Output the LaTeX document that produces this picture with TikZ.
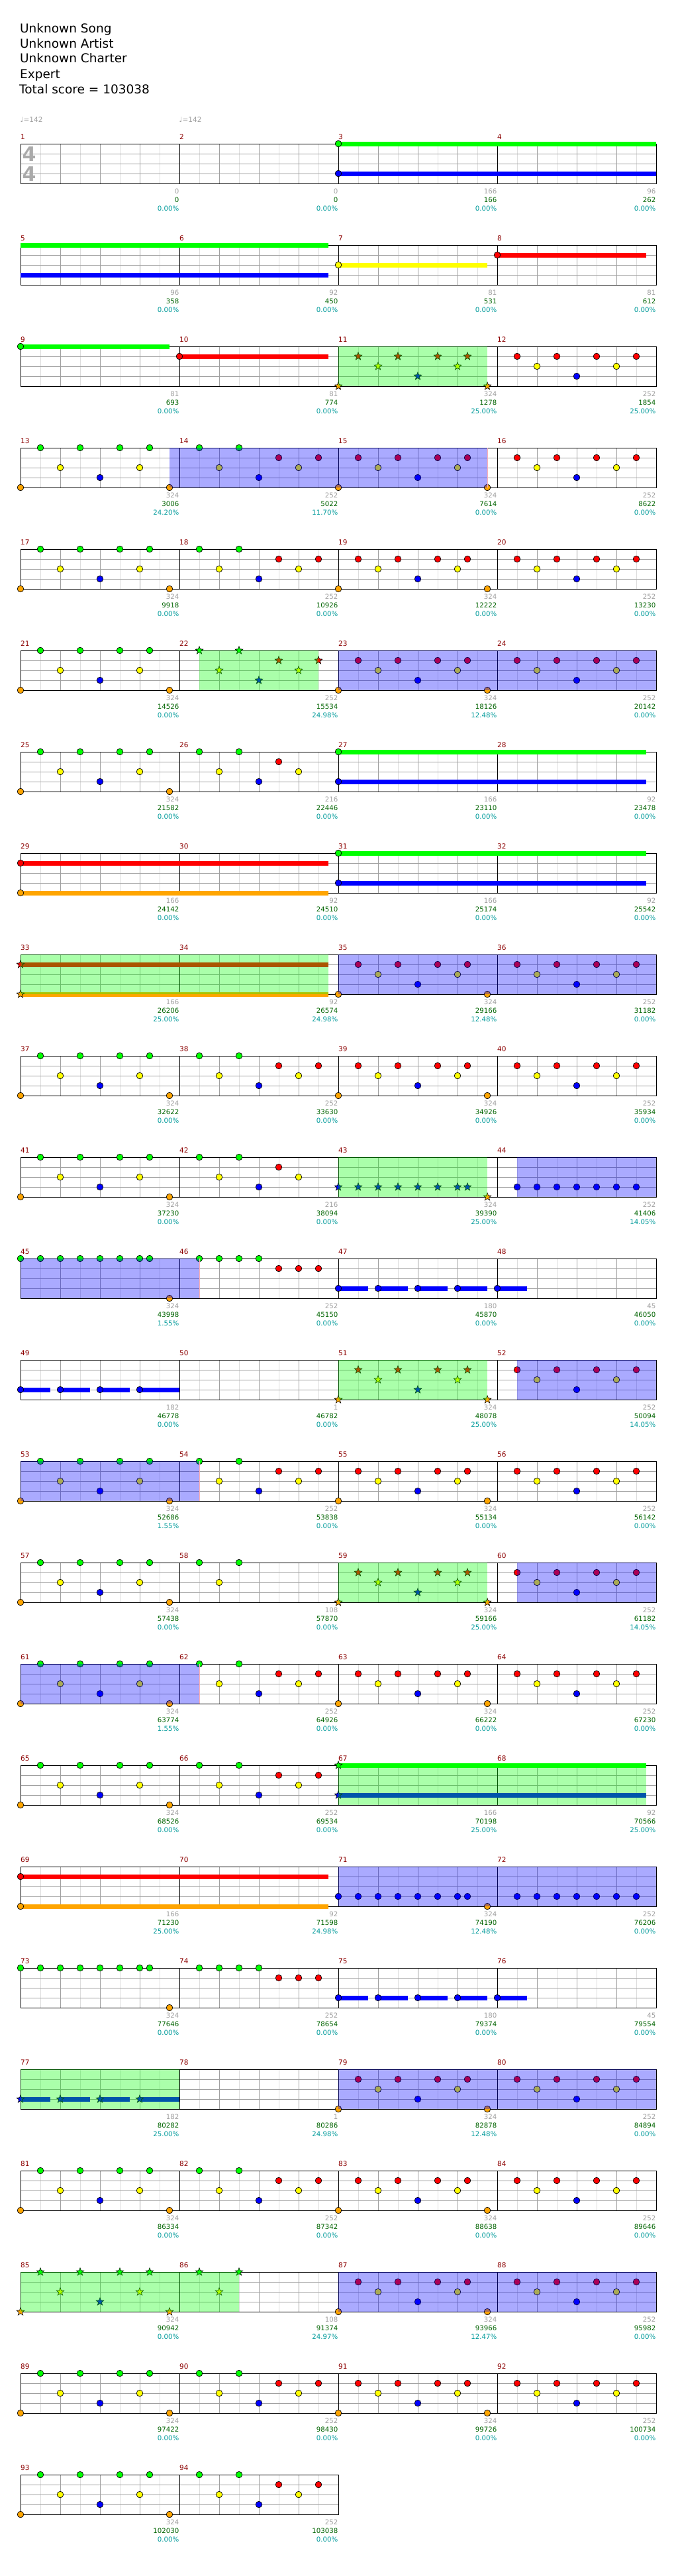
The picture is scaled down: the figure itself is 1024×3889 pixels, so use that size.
\documentclass[tikz,border=0pt]{standalone}
\usepackage{fontspec}
\setmainfont{DejaVu Sans}
\usetikzlibrary{positioning}

\definecolor{lane1}{RGB}{0,255,0}
\definecolor{lane2}{RGB}{255,0,0}
\definecolor{lane3}{RGB}{255,255,0}
\definecolor{lane4}{RGB}{0,0,255}
\definecolor{lane5}{RGB}{255,165,0}
\definecolor{gridlight}{RGB}{221,221,221}
\definecolor{gridmid}{RGB}{160,160,160}
\definecolor{labgray}{RGB}{160,160,160}
\definecolor{labgreen}{RGB}{0,100,0}
\definecolor{labteal}{RGB}{0,155,155}
\definecolor{numred}{RGB}{140,0,0}
\definecolor{tsgray}{RGB}{170,170,170}
\definecolor{spgreen}{RGB}{0,255,0}
\definecolor{spblue}{RGB}{0,0,255}

% measure m, sub-beat s, lane l -> \px, \py
\newcommand\chartpos[3]{%
  \pgfmathsetmacro\px{31+240*mod(#1-1,4)+30*#2}%
  \pgfmathsetmacro\py{217+153*int((#1-1)/4)+15*(#3-1)}}
\newcommand\gem[3]{\chartpos{#1}{#2}{#3}%
  \filldraw[fill=lane#3,draw=black,line width=0.7pt] (\px,\py) circle (4.8pt);}
\newcommand\sgem[3]{\chartpos{#1}{#2}{#3}%
  \filldraw[fill=lane#3,draw=black,line width=0.6pt]
    plot[samples at={0,...,9}] ({\px+ifthenelse(mod(\x,2)==0,6.2,2.6)*cos(90+36*\x)},{\py-ifthenelse(mod(\x,2)==0,6.2,2.6)*sin(90+36*\x)}) -- cycle;}
\newcommand\sus[4]{\chartpos{#1}{#2}{#3}%
  \draw[line width=7pt,lane#3] (\px,\py) -- ++(#4,0);}
\newcommand\phrase[4]{\chartpos{#2}{#3}{1}%
  \fill[#1,opacity=0.333] (\px,\py) rectangle ++(#4,60);}

% note patterns: #1 measure, #2 \gem or \sgem
\newcommand\patA[2]{#2{#1}{0}{5}#2{#1}{1}{1}#2{#1}{2}{3}#2{#1}{3}{1}#2{#1}{4}{4}%
  #2{#1}{5}{1}#2{#1}{6}{3}#2{#1}{6.5}{1}#2{#1}{7.5}{5}}
\newcommand\patB[2]{#2{#1}{1}{1}#2{#1}{2}{3}#2{#1}{3}{1}#2{#1}{4}{4}%
  #2{#1}{5}{2}#2{#1}{6}{3}#2{#1}{7}{2}}
\newcommand\patBb[2]{#2{#1}{1}{1}#2{#1}{2}{3}#2{#1}{3}{1}#2{#1}{4}{4}%
  #2{#1}{5}{2}#2{#1}{6}{3}}
\newcommand\patBc[2]{#2{#1}{1}{1}#2{#1}{2}{3}#2{#1}{3}{1}}
\newcommand\patC[2]{#2{#1}{0}{5}#2{#1}{1}{2}#2{#1}{2}{3}#2{#1}{3}{2}#2{#1}{4}{4}%
  #2{#1}{5}{2}#2{#1}{6}{3}#2{#1}{6.5}{2}#2{#1}{7.5}{5}}
\newcommand\patD[2]{#2{#1}{1}{2}#2{#1}{2}{3}#2{#1}{3}{2}#2{#1}{4}{4}%
  #2{#1}{5}{2}#2{#1}{6}{3}#2{#1}{7}{2}}
\newcommand\runG[2]{\foreach \s in {0,...,6,6.5}{#2{#1}{\s}{1}}#2{#1}{7.5}{5}}
\newcommand\runGR[2]{\foreach \s in {1,...,4}{#2{#1}{\s}{1}}\foreach \s in {5,6,7}{#2{#1}{\s}{2}}}
\newcommand\runB[2]{\foreach \s in {0,...,6,6.5}{#2{#1}{\s}{4}}#2{#1}{7.5}{5}}
\newcommand\runBb[2]{\foreach \s in {1,...,7}{#2{#1}{\s}{4}}}

\begin{document}
\begin{tikzpicture}[x=1pt,y=-1pt]
\tikzset{
  minorline/.style={line width=1pt,draw=gridlight},
  majorline/.style={line width=1pt,draw=gridmid},
  barline/.style={line width=1pt,draw=black},
  heading/.style={anchor=base west,inner sep=0pt,font=\fontsize{18.5}{22}\selectfont},
  tempo/.style={anchor=base west,inner sep=0pt,text=labgray,font=\fontsize{10.5}{12}\selectfont},
  barnum/.style={anchor=base west,inner sep=0pt,text=numred,font=\fontsize{10.5}{12}\selectfont},
  msc/.style={anchor=base east,inner sep=0pt,text=labgray,font=\fontsize{10.2}{12}\selectfont},
  tsc/.style={msc,text=labgreen},
  pct/.style={msc,text=labteal},
  timesig/.style={inner sep=0pt,text=tsgray,font=\bfseries\fontsize{30}{30}\selectfont}
}
\useasboundingbox (0,0) rectangle (1024,3889);
\fill[white] (0,0) rectangle (1024,3889);

% header
\node[heading] (song) at (30,49) {Unknown Song};
\node[heading] (artist) at (30,72) {Unknown Artist};
\node[heading] (charter) at (30,95) {Unknown Charter};
\node[heading] (level) at (30,118) {Expert};
\node[heading] (total) at (29,141) {Total score = 103038};
\node[tempo] (bpm1) at (30.5,184) {♩=142};
\node[tempo] (bpm2) at (270.5,184) {♩=142};

% staves
\foreach \m in {1,...,94}{
  \pgfmathsetmacro\bx{31+240*mod(\m-1,4)}
  \pgfmathsetmacro\by{217+153*int((\m-1)/4)}
  \foreach \s in {1,3,5,7} \draw[minorline] (\bx+30*\s,\by) -- ++(0,60);
  \foreach \s in {2,4,6} \draw[majorline] (\bx+30*\s,\by) -- ++(0,60);
  \foreach \l in {15,30,45} \draw[majorline] (\bx,\by+\l) -- ++(240,0);
}
\foreach \m in {1,...,94}{
  \pgfmathsetmacro\bx{31+240*mod(\m-1,4)}
  \pgfmathsetmacro\by{217+153*int((\m-1)/4)}
  \draw[barline] (\bx,\by) rectangle ++(240,60);
  \node[barnum] (num\m) at (\bx,\by-7) {\m};
}
\node[timesig] (tsup) at (44,233) {4};
\node[timesig] (tsdown) at (44,263) {4};

% sustains
\foreach \m/\s/\l/\n in {3/0/1/480,3/0/4/480,5/0/1/465,5/0/4/465,7/0/3/225,8/0/2/225,
  9/0/1/225,10/0/2/225,27/0/1/465,27/0/4/465,29/0/2/465,29/0/5/465,31/0/1/465,31/0/4/465,
  33/0/2/465,33/0/5/465,67/0/1/465,67/0/4/465,69/0/2/465,69/0/5/465,
  47/0/4/45,47/2/4/45,47/4/4/45,47/6/4/45,48/0/4/45,49/0/4/45,49/2/4/45,49/4/4/45,49/6/4/60,
  75/0/4/45,75/2/4/45,75/4/4/45,75/6/4/45,76/0/4/45,77/0/4/45,77/2/4/45,77/4/4/45,77/6/4/60}
  {\sus{\m}{\s}{\l}{\n}}

% notes
\foreach \m/\s/\l in {3/0/1,3/0/4,7/0/3,8/0/2,9/0/1,10/0/2,27/0/1,27/0/4,29/0/2,29/0/5,
  31/0/1,31/0/4,69/0/2,69/0/5,47/0/4,47/2/4,47/4/4,47/6/4,48/0/4,49/0/4,49/2/4,49/4/4,49/6/4,
  75/0/4,75/2/4,75/4/4,75/6/4,76/0/4}
  {\gem{\m}{\s}{\l}}
\foreach \m/\s/\l in {33/0/2,33/0/5,67/0/1,67/0/4,77/0/4,77/2/4,77/4/4,77/6/4}
  {\sgem{\m}{\s}{\l}}
\foreach \m in {13,17,21,25,37,41,53,57,61,65,81,89,93} {\patA{\m}{\gem}}
\patA{85}{\sgem}
\foreach \m in {14,18,38,54,62,66,82,90,94} {\patB{\m}{\gem}}
\patB{22}{\sgem}
\foreach \m in {26,42} {\patBb{\m}{\gem}}
\patBc{58}{\gem}
\patBc{86}{\sgem}
\foreach \m in {15,19,23,35,39,55,63,79,83,87,91} {\patC{\m}{\gem}}
\foreach \m in {11,51,59} {\patC{\m}{\sgem}}
\foreach \m in {12,16,20,24,36,40,52,56,60,64,80,84,88,92} {\patD{\m}{\gem}}
\foreach \m in {45,73} {\runG{\m}{\gem}}
\foreach \m in {46,74} {\runGR{\m}{\gem}}
\runB{71}{\gem}
\runB{43}{\sgem}
\foreach \m in {44,72} {\runBb{\m}{\gem}}

% star power phrases and activations
\foreach \m/\s/\n in {11/0/225,22/1/180,33/0/465,43/0/225,51/0/225,59/0/225,67/0/465,77/0/240,85/0/330}
  {\phrase{spgreen}{\m}{\s}{\n}}
\foreach \m/\s/\n in {13/7.5/480,23/0/480,35/0/480,44/1/210,45/0/270,52/1/210,53/0/270,
  60/1/210,61/0/270,71/0/480,79/0/480,87/0/480}
  {\phrase{spblue}{\m}{\s}{\n}}
\foreach \m/\s in {15/7.5,46/1,54/1,62/1}
  {\chartpos{\m}{\s}{1}\draw[red!30,line width=0.8pt] (\px,\py) -- ++(0,60);}

% measure scores
\foreach \m/\g/\t/\p in {1/0/0/0.00,2/0/0/0.00,3/166/166/0.00,4/96/262/0.00,
  5/96/358/0.00,6/92/450/0.00,7/81/531/0.00,8/81/612/0.00,
  9/81/693/0.00,10/81/774/0.00,11/324/1278/25.00,12/252/1854/25.00,
  13/324/3006/24.20,14/252/5022/11.70,15/324/7614/0.00,16/252/8622/0.00,
  17/324/9918/0.00,18/252/10926/0.00,19/324/12222/0.00,20/252/13230/0.00,
  21/324/14526/0.00,22/252/15534/24.98,23/324/18126/12.48,24/252/20142/0.00,
  25/324/21582/0.00,26/216/22446/0.00,27/166/23110/0.00,28/92/23478/0.00,
  29/166/24142/0.00,30/92/24510/0.00,31/166/25174/0.00,32/92/25542/0.00,
  33/166/26206/25.00,34/92/26574/24.98,35/324/29166/12.48,36/252/31182/0.00,
  37/324/32622/0.00,38/252/33630/0.00,39/324/34926/0.00,40/252/35934/0.00,
  41/324/37230/0.00,42/216/38094/0.00,43/324/39390/25.00,44/252/41406/14.05,
  45/324/43998/1.55,46/252/45150/0.00,47/180/45870/0.00,48/45/46050/0.00,
  49/182/46778/0.00,50/1/46782/0.00,51/324/48078/25.00,52/252/50094/14.05,
  53/324/52686/1.55,54/252/53838/0.00,55/324/55134/0.00,56/252/56142/0.00,
  57/324/57438/0.00,58/108/57870/0.00,59/324/59166/25.00,60/252/61182/14.05,
  61/324/63774/1.55,62/252/64926/0.00,63/324/66222/0.00,64/252/67230/0.00,
  65/324/68526/0.00,66/252/69534/0.00,67/166/70198/25.00,68/92/70566/25.00,
  69/166/71230/25.00,70/92/71598/24.98,71/324/74190/12.48,72/252/76206/0.00,
  73/324/77646/0.00,74/252/78654/0.00,75/180/79374/0.00,76/45/79554/0.00,
  77/182/80282/25.00,78/1/80286/24.98,79/324/82878/12.48,80/252/84894/0.00,
  81/324/86334/0.00,82/252/87342/0.00,83/324/88638/0.00,84/252/89646/0.00,
  85/324/90942/0.00,86/108/91374/24.97,87/324/93966/12.47,88/252/95982/0.00,
  89/324/97422/0.00,90/252/98430/0.00,91/324/99726/0.00,92/252/100734/0.00,
  93/324/102030/0.00,94/252/103038/0.00}{
  \pgfmathsetmacro\ex{271+240*mod(\m-1,4)}
  \pgfmathsetmacro\ey{277+153*int((\m-1)/4)}
  \node[msc] (ms\m) at (\ex-0.5,\ey+15.4) {\g};
  \node[tsc] (ts\m) at (\ex-0.5,\ey+28.4) {\t};
  \node[pct] (pc\m) at (\ex-0.5,\ey+41) {\p\%};
}
\end{tikzpicture}
\end{document}
